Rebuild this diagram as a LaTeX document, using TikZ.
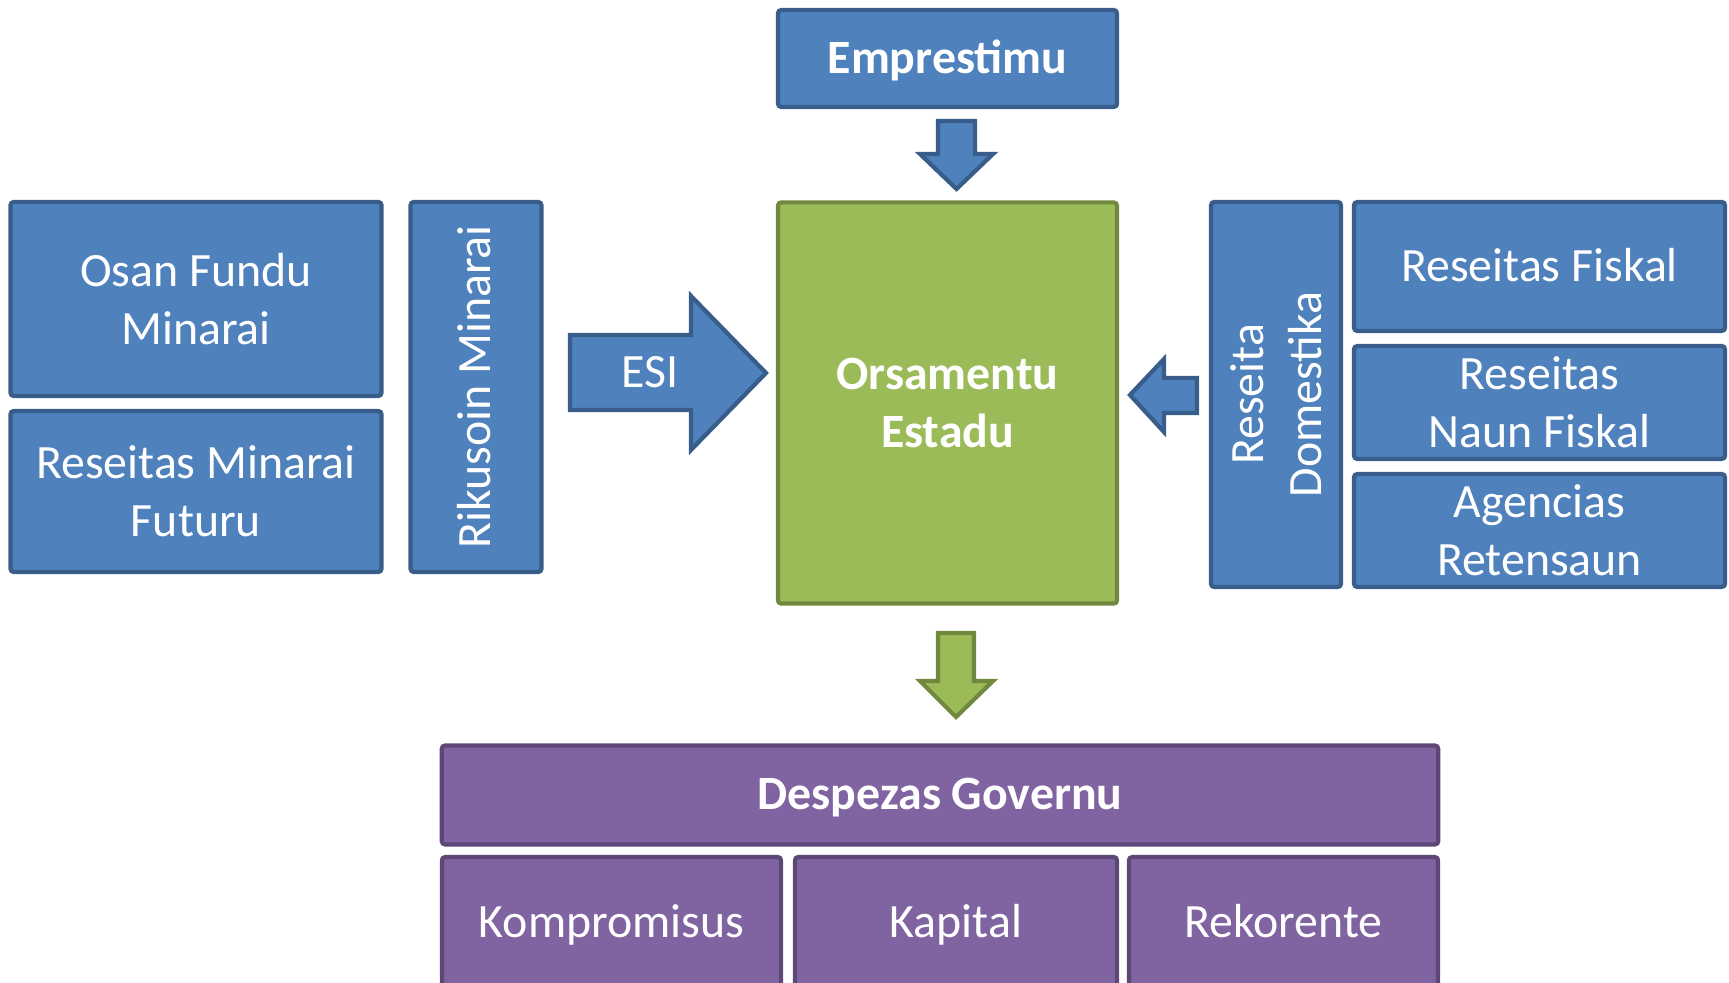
\documentclass[tikz,border=0pt]{standalone}
\usepackage{fontspec}
\setmainfont{Carlito}
\definecolor{blueface}{HTML}{4F81BD}
\definecolor{blueedge}{HTML}{385D8A}
\definecolor{greenface}{HTML}{9BBB59}
\definecolor{greenedge}{HTML}{71893F}
\definecolor{purpleface}{HTML}{8064A2}
\definecolor{purpleedge}{HTML}{5C4776}
\begin{document}
\begin{tikzpicture}[x=0.01cm, y=-0.01cm,
  box/.style={draw, line width=1.2pt, rounded corners=1pt, text=white,
    align=center, inner sep=0pt, font=\fontsize{13.6}{16.5}\selectfont},
  oneline/.style={text height=0.92em, text depth=0.08em},
  bluebox/.style={box, fill=blueface, draw=blueedge},
  greenbox/.style={box, fill=greenface, draw=greenedge},
  purplebox/.style={box, fill=purpleface, draw=purpleedge},
  blockarrow/.style={line width=1.2pt, line join=miter}]

  % Fix the page to the size of the reference
  \useasboundingbox (0,0) rectangle (1729,983);
  \clip (0,0) rectangle (1729,983);

  % Loans on top
  \node[bluebox, oneline, minimum width=3.39cm, minimum height=0.97cm] (emprestimu) at (947.5,58.5) {\bfseries Emprestimu};

  % State budget in the middle
  \node[greenbox, minimum width=3.39cm, minimum height=4.01cm] (orsamentu) at (947.5,403) {\bfseries Orsamentu\\\bfseries Estadu};

  % Petroleum fund on the left
  \node[bluebox, minimum width=3.71cm, minimum height=1.94cm] (osan) at (196,299) {Osan Fundu\\Minarai};
  \node[bluebox, minimum width=3.71cm, minimum height=1.61cm] (futuru) at (196,491.5) {Reseitas Minarai\\Futuru};
  \node[bluebox, oneline, rotate=90, minimum width=3.70cm, minimum height=1.31cm] (rikusoin) at (476,387) {Rikusoin Minarai};

  % Domestic revenue on the right
  \node[bluebox, rotate=90, minimum width=3.85cm, minimum height=1.30cm] (domestika) at (1276,394.5) {Reseita\\Domestika};
  \node[bluebox, oneline, minimum width=3.71cm, minimum height=1.29cm] (fiskal) at (1539.5,266.5) {Reseitas Fiskal};
  \node[bluebox, minimum width=3.71cm, minimum height=1.13cm] (naunfiskal) at (1539.5,402.5) {Reseitas\\Naun Fiskal};
  \node[bluebox, minimum width=3.71cm, minimum height=1.13cm] (agencias) at (1539.5,530.5) {Agencias\\Retensaun};

  % Government spending at the bottom
  \node[purplebox, oneline, minimum width=9.96cm, minimum height=0.99cm] (despezas) at (940,795) {\bfseries Despezas Governu};
  \node[purplebox, oneline, minimum width=3.39cm, minimum height=1.32cm] (kompromisus) at (611.5,923) {Kompromisus};
  \node[purplebox, oneline, minimum width=3.22cm, minimum height=1.32cm] (kapital) at (956,923) {Kapital};
  \node[purplebox, oneline, minimum width=3.09cm, minimum height=1.32cm] (rekorente) at (1283.5,923) {Rekorente};

  % Arrow from the loans down to the budget
  \draw[blockarrow, fill=blueface, draw=blueedge]
    (938,121) -- (975,121) -- (975,154) -- (993,154) -- (956.5,189)
    -- (920,154) -- (938,154) -- cycle;

  % ESI arrow from the petroleum fund
  \draw[blockarrow, fill=blueface, draw=blueedge]
    (570,335) -- (691,335) -- (691,296) -- (766,373) -- (691,450)
    -- (691,410) -- (570,410) -- cycle;
  \node[text=white, oneline, font=\fontsize{13.6}{16.5}\selectfont] (esi) at (650,373) {ESI};

  % Arrow from the domestic revenue
  \draw[blockarrow, fill=blueface, draw=blueedge]
    (1130,395) -- (1164,359) -- (1164,378) -- (1197,378) -- (1197,413)
    -- (1164,413) -- (1164,432) -- cycle;

  % Arrow from the budget down to the spending
  \draw[blockarrow, fill=greenface, draw=greenedge]
    (938,633) -- (974,633) -- (974,681) -- (993,681) -- (956,717)
    -- (920,681) -- (938,681) -- cycle;

\end{tikzpicture}
\end{document}
